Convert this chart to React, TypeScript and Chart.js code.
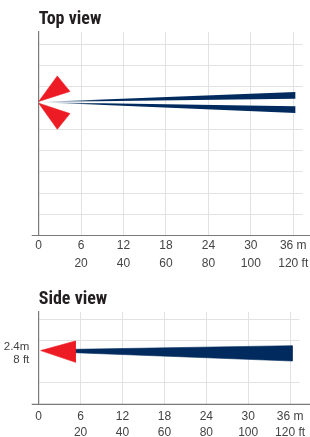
import React, { useEffect, useRef } from 'react';
import { Chart, registerables } from 'chart.js';

Chart.register(...registerables);

// ---- data ----
const meterTicks = [0, 6, 12, 18, 24, 30, 36];
const meterLabels = ['0', '6', '12', '18', '24', '30', '36 m'];
const feetLabels = ['', '20', '40', '60', '80', '100', '120 ft'];
const xMax = 37.34;

// Top view (y in grid units)
const topGridLevels = [1, 2, 3, 4, 5, 7, 8, 9];
const topYMax = 9.58;
const topRedUpper = [
  { x: 0, y: 6.31 },
  { x: 2.63, y: 7.51 },
  { x: 4.42, y: 6.78 },
  { x: 0, y: 6.31 },
];
const topRedLower = [
  { x: 0, y: 6.23 },
  { x: 4.42, y: 5.74 },
  { x: 2.63, y: 5.0 },
  { x: 0, y: 6.23 },
];
const topBeamUpper = [
  { x: 0, y: 6.29 },
  { x: 36.3, y: 6.75 },
  { x: 36.3, y: 6.44 },
  { x: 0, y: 6.29 },
];
const topBeamLower = [
  { x: 0, y: 6.27 },
  { x: 36.3, y: 6.08 },
  { x: 36.3, y: 5.77 },
  { x: 0, y: 6.27 },
];

// Side view
const sideGridLevels = [1, 3, 4];
const sideYMax = 4.33;
const sideHeightValue = 2.4;
const sideHeightLabel = ['2.4m', '8 ft'];
const sideRed = [
  { x: 0.28, y: 2.52 },
  { x: 5.26, y: 2.97 },
  { x: 5.26, y: 1.97 },
  { x: 0.28, y: 2.52 },
];
const sideBeam = [
  { x: 5.2, y: 2.58 },
  { x: 36.3, y: 2.75 },
  { x: 36.3, y: 2.03 },
  { x: 5.2, y: 2.42 },
  { x: 5.2, y: 2.58 },
];

// ---- styles ----
const NAVY = '#012b5e';
const RED = '#ed1c24';
const GRID = '#e2e2e2';
const AXIS = '#7a7a7a';
const TEXT = '#444444';
const TITLE_FONT = '"Liberation Sans Narrow", "Roboto Condensed", "Liberation Sans", sans-serif';
const TICK_FONT = '"Liberation Sans", Arial, sans-serif';
const CLEAR = 'rgba(0,0,0,0)';

const extendedBaseline = {
  id: 'extendedBaseline',
  afterDatasetsDraw(chart: any) {
    const { ctx, chartArea } = chart;
    ctx.save();
    ctx.strokeStyle = AXIS;
    ctx.lineWidth = 1.2;
    ctx.beginPath();
    ctx.moveTo(chartArea.left - 7, chartArea.bottom);
    ctx.lineTo(chart.width, chartArea.bottom);
    ctx.stroke();
    ctx.restore();
  },
};

function fadeNavy(c: any) {
  const chart = c.chart;
  const xs = chart.scales && chart.scales.x;
  if (!xs || !chart.chartArea) return NAVY;
  const g = chart.ctx.createLinearGradient(xs.getPixelForValue(0), 0, xs.getPixelForValue(9), 0);
  g.addColorStop(0, 'rgba(1,43,94,0.04)');
  g.addColorStop(0.45, 'rgba(1,43,94,0.55)');
  g.addColorStop(1, 'rgba(1,43,94,1)');
  return g;
}

function poly(data: any[], bg: any, border: any) {
  return {
    data,
    showLine: true,
    fill: 'shape',
    backgroundColor: bg,
    borderColor: border,
    borderWidth: 0.6,
    pointRadius: 0,
    tension: 0,
  };
}

function buildConfig(o: any) {
  return {
    type: 'scatter',
    data: { datasets: o.datasets },
    options: {
      animation: false,
      responsive: false,
      events: [],
      layout: { padding: { left: 0, right: 7, top: 0, bottom: 0 } },
      plugins: {
        legend: { display: false },
        tooltip: { enabled: false },
        title: {
          display: true,
          text: o.title,
          align: 'start',
          fullSize: false,
          color: '#231f20',
          font: { family: TITLE_FONT, size: 18, weight: 'bold', lineHeight: 1.2 },
          padding: { top: 8.4, bottom: 2 },
        },
      },
      scales: {
        x: {
          type: 'linear',
          min: 0,
          max: xMax,
          afterBuildTicks: (s: any) => {
            s.ticks = meterTicks.map((v) => ({ value: v }));
          },
          afterFit: (s: any) => {
            s.height = o.xAxisHeight;
          },
          grid: {
            color: (c: any) => (c.tick && c.tick.value === 0 ? CLEAR : GRID),
            drawTicks: false,
            lineWidth: 1,
          },
          border: { display: false },
          ticks: {
            autoSkip: false,
            maxRotation: 0,
            minRotation: 0,
            padding: o.tickPadding,
            color: TEXT,
            font: { family: TICK_FONT, size: 12, lineHeight: o.tickLineHeight },
            callback: (_v: any, i: number) => [meterLabels[i], feetLabels[i]],
          },
        },
        y: {
          type: 'linear',
          min: 0,
          max: o.yMax,
          afterBuildTicks: (s: any) => {
            s.ticks = o.yTicks.map((v: number) => ({ value: v }));
          },
          afterFit: (s: any) => {
            s.width = 38.7;
          },
          grid: {
            color: (c: any) => (c.tick && c.tick.value === o.labelValue ? CLEAR : GRID),
            drawTicks: false,
            lineWidth: 1,
          },
          border: { display: true, color: AXIS, width: 1.2 },
          ticks: {
            display: o.showYLabel,
            autoSkip: false,
            padding: 9.4,
            color: TEXT,
            font: { family: TICK_FONT, size: 11.5, lineHeight: 1.15 },
            callback: (v: number) => (v === o.labelValue ? o.labelText : ''),
          },
        },
      },
    },
    plugins: [extendedBaseline],
  };
}

function ChartCanvas({ config, width, height, top }: any) {
  const ref = useRef<HTMLCanvasElement | null>(null);
  useEffect(() => {
    if (!ref.current) return;
    const chart = new Chart(ref.current, config());
    return () => chart.destroy();
  }, []);
  return (
    <canvas
      ref={ref}
      width={width}
      height={height}
      style={{ position: 'absolute', left: 0, top, width, height, display: 'block' }}
    />
  );
}

export default function App() {
  const topConfig = () =>
    buildConfig({
      title: 'Top view',
      yMax: topYMax,
      yTicks: topGridLevels,
      labelValue: null,
      labelText: [],
      showYLabel: false,
      xAxisHeight: 39.5,
      tickPadding: 1.5,
      tickLineHeight: 1.46,
      datasets: [
        poly(topRedUpper, RED, RED),
        poly(topRedLower, RED, RED),
        poly(topBeamUpper, fadeNavy, CLEAR),
        poly(topBeamLower, fadeNavy, CLEAR),
      ],
    });
  const sideConfig = () =>
    buildConfig({
      title: 'Side view',
      yMax: sideYMax,
      yTicks: [...sideGridLevels, sideHeightValue],
      labelValue: sideHeightValue,
      labelText: sideHeightLabel,
      showYLabel: true,
      xAxisHeight: 32.7,
      tickPadding: 4.5,
      tickLineHeight: 1.32,
      datasets: [poly(sideRed, RED, RED), poly(sideBeam, NAVY, NAVY)],
    });
  return (
    <div style={{ position: 'absolute', left: 0, top: 0, width: 310, height: 437, background: '#fff' }}>
      <ChartCanvas config={topConfig} width={310} height={275} top={0} />
      <ChartCanvas config={sideConfig} width={310} height={157} top={280} />
    </div>
  );
}
